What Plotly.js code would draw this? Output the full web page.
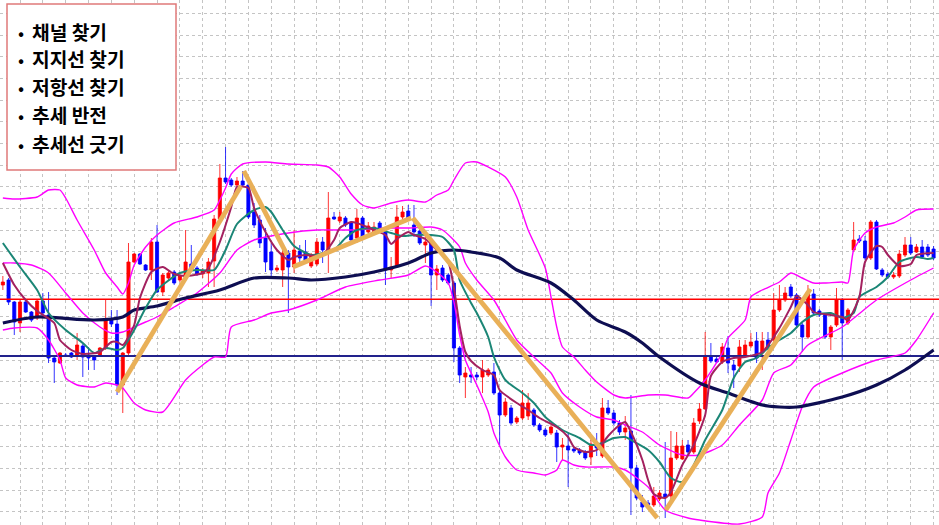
<!DOCTYPE html>
<html><head><meta charset="utf-8">
<script src="https://cdn.plot.ly/plotly-3.0.1.min.js"></script>
<style>html,body{margin:0;padding:0;background:#fff;}#chart{width:939px;height:525px;}</style>
</head><body><div id="chart"></div>
<script>
// ---- candle data (price units, one candle per bar) ----
const openP = [255,260,238,217,238,228,222,239,225,182, 177,185,187,184,194,185,183,184,192,220,
 216,155,187,278,286,275,270,298,248,262, 268,260,263,276,272,266,267,279,321,362,
 360,355,359,355,328,320,302,288,270,270, 287,273,289,288,274,276,298,287,323,319,
 322,317,302,322,308,308,317,308,270,273, 323,329,315,309,295,297,265,272,265,257,
 192,163,165,165,163,165,168,147,125,132, 118,122,124,130,115,110,107,107,93,94,
 91,90,88,83,97,84,132,127,117,108, 109,72,38,37,35,41,46,44,82,81,
 95,88,119,131,184,181,178,192,175,174, 185,194,199,187,200,200,230,240,253,245,
 215,203,246,229,225,203,215,240,217,290, 301,299,282,318,270,266,263,264,285,295,
 288,293,293,291];
const highP = [264,262,239,240,241,229,241,247,248,183, 188,187,188,207,196,193,185,193,240,230,
 230,188,297,287,287,276,302,315,267,269, 270,266,310,295,274,272,282,325,376,393,
 362,363,369,357,337,325,312,297,275,296, 290,310,295,300,287,302,303,348,328,328,
 324,319,331,324,318,318,319,312,283,335, 334,335,335,312,308,300,275,275,267,259,
 194,173,173,168,180,172,177,150,142,135, 124,150,147,132,117,112,115,110,102,107,
 93,92,90,100,107,142,140,130,120,124, 145,75,45,40,53,50,98,109,108,100,
 100,122,137,208,197,185,197,204,180,200, 200,207,208,208,208,247,255,253,256,247,
 217,255,251,231,227,215,252,242,232,318, 305,304,320,320,272,268,268,290,303,303,
 296,300,296,294];
const lowP = [250,235,205,208,227,218,220,225,177,157, 176,183,182,180,163,170,170,183,190,213,
 145,127,185,277,275,269,260,247,244,260, 255,258,262,268,264,262,253,253,319,356,
 353,353,353,321,312,292,268,263,268,253, 227,267,278,278,272,274,277,267,320,317,
 313,297,297,300,304,307,308,255,262,272, 320,320,303,295,277,234,250,258,255,178,
 157,142,157,160,147,163,145,93,123,115, 116,120,120,113,108,103,105,78,80,53,
 87,85,80,75,84,82,125,115,105,100, 25,40,28,32,33,39,22,40,80,80,
 85,86,116,130,177,177,176,167,152,168, 183,192,177,170,190,198,228,238,242,213,
 188,201,225,223,201,190,213,180,215,288, 297,280,280,270,263,261,261,262,283,285,
 287,281,283,280];
const closeP = [258,238,218,238,228,220,239,227,182,178, 187,184,183,195,183,182,180,192,220,216,
 155,187,278,286,276,270,298,248,265,267, 257,264,278,270,266,269,278,321,362,358,
 355,359,355,323,315,297,278,270,272,287, 273,290,282,280,285,298,290,322,321,323,
 315,300,322,303,314,313,310,270,273,323, 328,322,308,297,298,265,271,260,257,192,
 165,167,163,163,170,170,147,125,138,117, 122,137,137,115,110,105,113,93,95,90,
 89,87,82,96,92,132,127,117,108,112, 72,42,33,35,44,47,43,82,94,94,
 88,117,131,183,179,178,193,177,170,193, 195,198,182,199,191,230,240,247,244,215,
 203,248,227,225,203,213,240,217,230,300, 299,282,318,271,265,263,265,286,295,287,
 293,283,285,282];
const barIndex = openP.map((_, i) => i);

// ---- indicator lines (bar index, price) ----
const fastMaX = [0,2,4,6,9,10,12,14,17,19,20,21,23,24,26,28,30,32,35,36,38,40,41,43,44,46,48,50,51,53,55,56,58,59,61,62,65,67,68,69,71,72,74,76,78,79,80,81,82,84,86,87,90,92,94,97,99,100,102,104,106,108,109,110,112,113,114,116,117,119,121,123,124,126,128,130,133,136,138,139,141,142,145,147,148,150,151,153,154,155,157,159,160,163];
const fastMaY = [277,255,240,229,217,200,190,186,188,198,198,195,215,242,268,273,266,264,267,272,298,333,353,352,332,308,290,280,283,285,284,285,300,312,318,317,310,305,296,301,308,305,301,290,278,252,214,188,179,170,165,150,137,130,122,113,103,93,88,90,104,115,118,108,80,60,46,42,48,75,95,125,164,178,182,183,188,212,233,244,235,228,225,223,220,243,278,294,293,285,274,276,285,287];
const midMaX = [0,3,6,8,11,14,16,18,20,21,23,25,27,31,34,37,39,41,44,46,47,49,51,54,56,58,60,62,65,68,70,72,75,77,79,80,82,83,85,86,88,91,93,95,98,101,103,105,107,109,110,113,115,117,119,121,123,126,128,130,132,134,136,138,140,142,145,147,149,150,153,155,157,160,162,163];
const midMaY = [297,273,250,227,210,197,187,192,190,192,210,232,250,267,270,270,290,316,330,333,328,310,294,285,287,290,302,310,312,307,304,305,305,303,290,260,237,227,203,183,160,147,137,123,110,102,95,97,102,103,100,90,78,62,58,75,100,130,162,178,182,192,200,207,218,225,227,222,227,243,253,263,278,283,281,282];
const slowMaX = [0,6,16,21,23,27,32,38,44,50,54,60,65,71,75,79,82,87,90,96,100,104,109,112,115,122,127,133,136,139,147,153,158,163];
const slowMaY = [217,223,220,223,230,234,242,250,262,262,260,263,268,277,287,290,288,282,270,257,240,220,208,197,183,157,147,135,133,133,143,155,170,190];

const bandUpX = [0,2,6,8,10,11,13,16,18,20,21,22,23,25,27,30,34,37,38,39,40,42,46,50,55,57,59,61,63,65,68,71,74,76,78,79,81,83,85,88,90,92,95,96,97,98,100,102,104,107,109,113,116,120,121,123,126,127,130,131,133,136,138,140,142,144,147,148,149,151,153,156,158,160,163];
const bandUpY = [342,341,343,350,350,342,320,290,267,253,246,257,275,293,305,317,323,330,340,352,366,376,378,376,375,373,363,346,335,332,337,340,338,345,350,360,377,378,373,363,343,310,272,243,213,193,183,170,158,145,142,145,145,142,147,160,187,202,220,243,250,258,267,262,257,257,258,257,290,307,313,317,323,330,331];
const bandMidX = [0,2,5,8,11,14,17,19,21,23,25,27,30,34,38,41,44,50,55,61,68,71,75,77,80,81,83,86,88,90,93,96,98,101,104,107,109,112,115,119,122,126,129,133,135,138,141,147,153,159,163];
const bandMidY = [277,277,275,267,247,227,213,207,208,213,218,223,233,247,267,290,300,307,310,310,312,312,313,310,293,277,260,240,220,200,183,167,147,133,123,120,115,108,95,85,85,95,115,140,167,175,195,213,240,260,272];
const bandLowX = [0,2,6,8,10,11,13,16,18,20,21,23,25,28,32,35,37,39,40,44,47,50,55,60,66,71,74,76,78,79,80,81,83,85,86,88,90,93,95,97,98,100,102,107,109,113,116,120,122,129,133,134,136,138,140,142,147,153,158,160,163];
const bandLowY = [210,212,212,200,180,162,155,153,157,155,152,137,130,128,160,175,183,183,213,220,227,230,240,253,260,265,274,268,257,238,205,180,155,128,107,83,70,67,65,70,80,75,73,73,70,53,30,22,20,16,23,47,67,100,133,153,167,180,187,200,227];

// ---- horizontal levels and trend lines ----
const resistanceLevel = 240.7;
const supportLevel = 184;
const trendStartX = [20.0, 42.2, 50.8, 71.8, 116.1];
const trendStartY = [148, 369, 273, 322, 30];
const trendEndX   = [41.7, 49.8, 71.5, 114.6, 141.4];
const trendEndY   = [354, 285, 322, 22, 251];

const notes = ['채널 찾기', '지지선 찾기', '저항선 찾기', '추세 반전', '추세선 긋기'];

// ---- build traces ----
const X_RANGE = [-0.503, 163.95];
const Y_RANGE = [15, 540];
const traces = [];
traces.push({
  type: 'candlestick', x: barIndex, open: openP, high: highP, low: lowP, close: closeP,
  increasing: {line: {color: '#ff0000', width: 0.8}, fillcolor: '#ff0000'},
  decreasing: {line: {color: '#0000ff', width: 0.8}, fillcolor: '#0000ff'},
  whiskerwidth: 0, hoverinfo: 'skip', showlegend: false
});
traces.push({type: 'scatter', mode: 'lines', x: X_RANGE, y: [resistanceLevel, resistanceLevel],
  line: {color: '#ff0000', width: 1.6}, hoverinfo: 'skip', showlegend: false});
traces.push({type: 'scatter', mode: 'lines', x: X_RANGE, y: [supportLevel, supportLevel],
  line: {color: '#22228c', width: 2.2}, hoverinfo: 'skip', showlegend: false});
[[bandUpX, bandUpY], [bandMidX, bandMidY], [bandLowX, bandLowY]].forEach(([bx, by]) => {
  traces.push({type: 'scatter', mode: 'lines', x: bx, y: by,
    line: {color: '#ff00ff', width: 1.4, shape: 'spline', smoothing: 0.6}, hoverinfo: 'skip', showlegend: false});
});
traces.push({type: 'scatter', mode: 'lines', x: slowMaX, y: slowMaY,
  line: {color: '#0e0e52', width: 3.2, shape: 'spline', smoothing: 0.8}, hoverinfo: 'skip', showlegend: false});
traces.push({type: 'scatter', mode: 'lines', x: midMaX, y: midMaY,
  line: {color: '#1b8676', width: 2, shape: 'spline', smoothing: 0.6}, hoverinfo: 'skip', showlegend: false});
traces.push({type: 'scatter', mode: 'lines', x: fastMaX, y: fastMaY,
  line: {color: '#a3215f', width: 2, shape: 'spline', smoothing: 0.6}, hoverinfo: 'skip', showlegend: false});
trendStartX.forEach((sx, k) => {
  traces.push({type: 'scatter', mode: 'lines', x: [sx, trendEndX[k]], y: [trendStartY[k], trendEndY[k]],
    line: {color: '#e9b058', width: 4.8}, hoverinfo: 'skip', showlegend: false});
});

// ---- legend box text ----
const W = 939, H = 525;
const lineCentres = [31.5, 59.5, 87.5, 115.5, 143.5];
const annotations = [];
notes.forEach((t, k) => {
  annotations.push({xref: 'paper', yref: 'paper', x: 20.5 / W, y: 1 - lineCentres[k] / H,
    xanchor: 'center', yanchor: 'middle', showarrow: false, text: '•', borderpad: 0,
    font: {family: 'Noto Sans CJK KR', size: 18, color: '#000'}});
  annotations.push({xref: 'paper', yref: 'paper', x: 31 / W, y: 1 - lineCentres[k] / H,
    xanchor: 'left', yanchor: 'middle', showarrow: false, text: t, borderpad: 0,
    font: {family: 'Noto Sans CJK KR', size: 19.2, color: '#000', weight: 'bold'}});
});

const layout = {
  width: W, height: H, margin: {l: 0, r: 0, t: 0, b: 0, pad: 0},
  paper_bgcolor: '#ffffff', plot_bgcolor: '#ffffff', showlegend: false,
  boxgap: 0.22,
  xaxis: {range: X_RANGE, rangeslider: {visible: false}, showticklabels: false, zeroline: false,
    showline: false, ticks: '', tick0: 3, dtick: 4, showgrid: true, gridcolor: '#c4c4c4', griddash: 'dot', gridwidth: 1, fixedrange: true},
  yaxis: {range: Y_RANGE, showticklabels: false, zeroline: false, showline: false, ticks: '',
    tick0: 6.667, dtick: 21.6667, showgrid: true, gridcolor: '#c4c4c4', griddash: 'dot', gridwidth: 1, fixedrange: true},
  shapes: [{type: 'rect', xref: 'paper', yref: 'paper', x0: 7 / W, x1: 176 / W, y0: 1 - 170 / H, y1: 1 - 4 / H,
    fillcolor: '#ffffff', line: {color: '#e07a7a', width: 1.5}, layer: 'above'}],
  annotations: annotations
};
Plotly.newPlot('chart', traces, layout, {staticPlot: true, displayModeBar: false});
</script></body></html>
